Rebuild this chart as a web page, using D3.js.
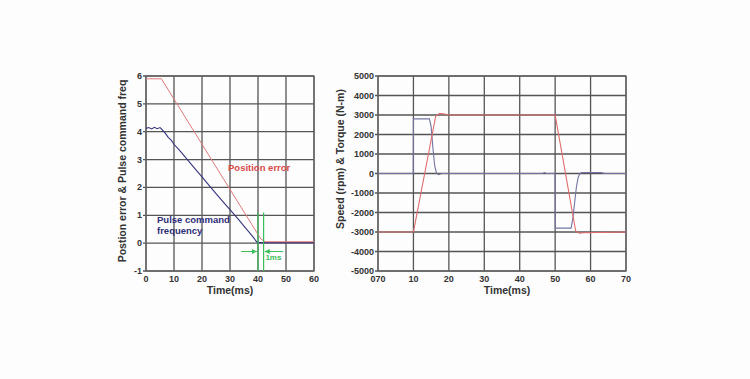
<!DOCTYPE html>
<html>
<head>
<meta charset="utf-8">
<script src="https://cdn.jsdelivr.net/npm/d3@7"></script>
<style>
  body { margin: 0; background: #fdfdfd; }
  svg { display: block; font-family: "Liberation Sans", Arial, sans-serif; }
  .tick-lbl { font-size: 9px; font-weight: bold; fill: #333; }
  .ax-title { font-size: 10.5px; font-weight: bold; fill: #333; }
</style>
</head>
<body>
<svg id="chart"></svg>
<script>
// left chart data
let posTime = [0, 5.5, 10, 20, 30, 41, 42.5, 60];
let posErr = [5.9, 5.9, 5.17, 3.55, 1.93, 0.15, 0.05, 0.05];
let pulseTime = [0, 1, 2, 3, 4, 5, 5.5, 7, 8, 9, 10, 12, 15, 18, 20, 22, 25, 28, 30, 33, 35, 38, 39.5, 40, 60];
let pulseFreq = [4.12, 4.15, 4.1, 4.16, 4.11, 4.15, 4.1, 3.93, 3.79, 3.7, 3.55, 3.33, 2.97, 2.61, 2.38, 2.14, 1.78, 1.43, 1.2, 0.85, 0.61, 0.25, 0.05, 0.02, 0.02];
let leftXTicks = [0, 10, 20, 30, 40, 50, 60];
let leftYTicks = [-1, 0, 1, 2, 3, 4, 5, 6];

// right chart data
let speedTime = [0, 10, 16.3, 17.3, 18.5, 20, 50, 55.8, 56.8, 58, 70];
let speed = [-3000, -3000, 2950, 3070, 3060, 3000, 3000, -2950, -3060, -3040, -3000];
let torqueTime = [0, 9.95, 10, 14.5, 15, 15.5, 16, 16.5, 17, 18, 46.5, 47, 47.5, 50, 50.05, 54.5, 55, 55.5, 56, 56.5, 57, 57.5, 63, 64, 70];
let torque = [0, 0, 2800, 2800, 2400, 1300, 400, 30, -60, 0, 0, 50, 0, 0, -2800, -2800, -2300, -1500, -700, -200, 0, 50, 50, 0, 0];
let rightXTicks = [0, 10, 20, 30, 40, 50, 60, 70];
let rightXLabels = ["070", "10", "20", "30", "40", "50", "60", "70"];
let rightYTicks = [-5000, -4000, -3000, -2000, -1000, 0, 1000, 2000, 3000, 4000, 5000];

let width = 750, height = 379;
let svg = d3.select("#chart").attr("width", width).attr("height", height);

function drawFrame(x, y, xTicks, xLabels, yTicks) {
  let g = svg.append("g");
  let [x0, x1] = x.range(), [y0, y1] = y.range();
  // grid
  g.selectAll(".vg").data(xTicks).enter().append("line")
    .attr("x1", d => x(d)).attr("x2", d => x(d))
    .attr("y1", y1).attr("y2", y0)
    .attr("stroke", "#555").attr("stroke-width", 1.3);
  g.selectAll(".hg").data(yTicks).enter().append("line")
    .attr("x1", x0 - 3).attr("x2", x1)
    .attr("y1", d => y(d)).attr("y2", d => y(d))
    .attr("stroke", "#555").attr("stroke-width", 1.3);
  // frame
  g.append("rect").attr("x", x0).attr("y", y1)
    .attr("width", x1 - x0).attr("height", y0 - y1)
    .attr("fill", "none").attr("stroke", "#666").attr("stroke-width", 1.3);
  // tick labels
  g.selectAll(".yl").data(yTicks).enter().append("text")
    .attr("class", "tick-lbl")
    .attr("x", x0 - 4).attr("y", d => y(d) + 3)
    .attr("text-anchor", "end")
    .text(d => d);
  g.selectAll(".xl").data(xTicks).enter().append("text")
    .attr("class", "tick-lbl")
    .attr("x", d => x(d)).attr("y", y0 + 11)
    .attr("text-anchor", "middle")
    .text((d, i) => xLabels[i]);
  return g;
}

// ---- left chart ----
let xL = d3.scaleLinear().domain([0, 60]).range([146, 314]);
let yL = d3.scaleLinear().domain([-1, 6]).range([271, 76]);
drawFrame(xL, yL, leftXTicks, leftXTicks, leftYTicks);

let lineL = d3.line().x(d => xL(d[0])).y(d => yL(d[1]));
svg.append("path")
  .datum(pulseTime.map((t, i) => [t, pulseFreq[i]]))
  .attr("d", lineL).attr("fill", "none")
  .attr("stroke", "#35357e").attr("stroke-width", 1.1);
svg.append("path")
  .datum(posTime.map((t, i) => [t, posErr[i]]))
  .attr("d", lineL).attr("fill", "none")
  .attr("stroke", "#e07a7a").attr("stroke-width", 1);

// 1ms marker
let green = "#3cbf5a";
[40, 42].forEach(t => {
  svg.append("line")
    .attr("x1", xL(t)).attr("x2", xL(t))
    .attr("y1", yL(1.1)).attr("y2", yL(-1))
    .attr("stroke", green).attr("stroke-width", 1.2);
});
svg.append("defs").append("marker")
  .attr("id", "arr").attr("viewBox", "0 0 6 6")
  .attr("refX", 6).attr("refY", 3)
  .attr("markerWidth", 5).attr("markerHeight", 5)
  .attr("orient", "auto")
  .append("path").attr("d", "M0,0L6,3L0,6z").attr("fill", green);
svg.append("line")
  .attr("x1", xL(34)).attr("x2", xL(39.6))
  .attr("y1", yL(-0.3)).attr("y2", yL(-0.3))
  .attr("stroke", green).attr("stroke-width", 1)
  .attr("marker-end", "url(#arr)");
svg.append("line")
  .attr("x1", xL(49)).attr("x2", xL(42.4))
  .attr("y1", yL(-0.3)).attr("y2", yL(-0.3))
  .attr("stroke", green).attr("stroke-width", 1)
  .attr("marker-end", "url(#arr)");
svg.append("text")
  .attr("x", xL(45.5)).attr("y", yL(-0.62))
  .attr("text-anchor", "middle")
  .style("font-size", "8px").style("font-weight", "bold")
  .attr("fill", green).text("1ms");

svg.append("text")
  .attr("x", 228).attr("y", 171)
  .style("font-size", "9.5px").style("font-weight", "bold")
  .attr("fill", "#d84a4a").text("Position error");
svg.append("text")
  .attr("x", 157).attr("y", 223)
  .style("font-size", "9.5px").style("font-weight", "bold")
  .attr("fill", "#2e2e7a").text("Pulse command");
svg.append("text")
  .attr("x", 157).attr("y", 234)
  .style("font-size", "9.5px").style("font-weight", "bold")
  .attr("fill", "#2e2e7a").text("frequency");

svg.append("text").attr("class", "ax-title")
  .attr("x", 230).attr("y", 294)
  .attr("text-anchor", "middle").text("Time(ms)");
svg.append("text").attr("class", "ax-title")
  .attr("transform", "translate(126,171) rotate(-90)")
  .attr("text-anchor", "middle").text("Postion error & Pulse command freq");

// ---- right chart ----
let xR = d3.scaleLinear().domain([0, 70]).range([378, 626]);
let yR = d3.scaleLinear().domain([-5000, 5000]).range([271, 76]);
drawFrame(xR, yR, rightXTicks, rightXLabels, rightYTicks);

let lineR = d3.line().x(d => xR(d[0])).y(d => yR(d[1]));
svg.append("path")
  .datum(torqueTime.map((t, i) => [t, torque[i]]))
  .attr("d", lineR).attr("fill", "none")
  .attr("stroke", "#7474a4").attr("stroke-width", 1.1);
svg.append("path")
  .datum(speedTime.map((t, i) => [t, speed[i]]))
  .attr("d", lineR).attr("fill", "none")
  .attr("stroke", "#e06a6a").attr("stroke-width", 1.1);

svg.append("text").attr("class", "ax-title")
  .attr("x", 507).attr("y", 294)
  .attr("text-anchor", "middle").text("Time(ms)");
svg.append("text").attr("class", "ax-title")
  .attr("transform", "translate(344,159) rotate(-90)")
  .attr("text-anchor", "middle").text("Speed (rpm) & Torque (N-m)");
</script>
</body>
</html>
